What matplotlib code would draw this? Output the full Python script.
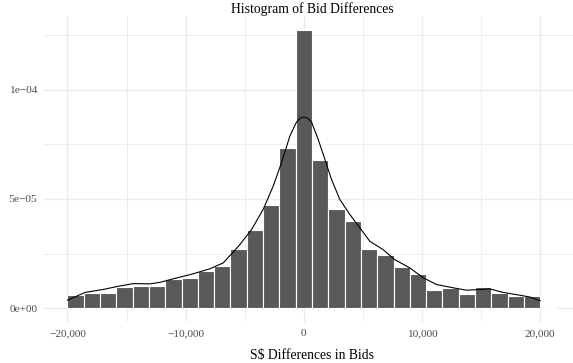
import numpy as np
import matplotlib.pyplot as plt

plt.rcParams['font.family'] = ['Liberation Serif', 'DejaVu Serif']

# bin edges of the histogram (30 bins of equal width)
bin_lo = -20000
bin_width = 40000 / 29
n_bins = 30

# density per bin (units 1e-5)
density = [0.62, 0.68, 0.68, 0.97, 1.00, 1.00, 1.34, 1.40, 1.72, 1.95,
           2.72, 3.56, 4.70, 7.35, 12.74, 6.78, 4.52, 4.01, 2.72, 2.45,
           1.87, 1.58, 0.85, 0.93, 0.65, 0.97, 0.70, 0.54, 0.57, 0.00]

# kernel density estimate, read at points along x
kde_x = [-20000, -18500, -17000, -15700, -14430, -13000, -12170, -11050,
         -9360, -7950, -6820, -5980, -5410, -4420, -3440, -2590, -1890,
         -1180, -620, -300, 0, 320, 650, 1210, 1780, 2340, 3040, 3890, 4730,
         5580, 6700, 7690, 8960, 10090, 11220, 12620, 13750, 14880, 15720,
         16850, 18260, 19100, 20000]
kde_y = [0.36, 0.72, 0.85, 1.00, 1.12, 1.11, 1.18, 1.34, 1.57, 1.80,
         2.07, 2.56, 2.91, 3.60, 4.52, 5.59, 6.66, 7.88, 8.52, 8.70, 8.75,
         8.70, 8.52, 7.73, 6.81, 5.89, 4.98, 4.29, 3.68, 3.06, 2.68, 2.22,
         1.84, 1.39, 1.08, 0.93, 0.82, 0.85, 0.88, 0.72, 0.59, 0.51, 0.34]

x_ticks = [-20000, -10000, 0, 10000, 20000]
x_labels = ['\u221220,000', '\u221210,000', '0', '10,000', '20,000']
y_ticks = [0, 5e-5, 1e-4]
y_labels = ['0e+00', '5e\u221205', '1e\u221204']

dens = np.array(density) * 1e-5
edges = bin_lo + bin_width * np.arange(n_bins + 1)

W, H = 573, 363
fig = plt.figure(figsize=(W / 100, H / 100), dpi=100)
# panel runs a little past the right edge of the figure
ax = fig.add_axes([43 / W, 1 - 322 / H, (581 - 43) / W, (322 - 16) / H])

ax.bar(edges[:-1], dens, width=bin_width, align='edge',
       color='#595959', edgecolor='white', linewidth=0.8, zorder=2)
ax.plot(kde_x, np.array(kde_y) * 1e-5, color='black', linewidth=0.8, zorder=3)

xr = edges[-1] - edges[0]
ax.set_xlim(edges[0] - 0.05 * xr, edges[-1] + 0.05 * xr)
ax.set_ylim(-0.05 * dens.max(), 1.05 * dens.max())

ax.set_xticks(x_ticks)
ax.set_xticklabels(x_labels)
ax.set_xticks([-15000, -5000, 5000, 15000], minor=True)
ax.set_yticks(y_ticks)
ax.set_yticklabels(y_labels)
ax.set_yticks([2.5e-5, 7.5e-5, 1.25e-4], minor=True)

ax.grid(which='major', color='#EBEBEB', linewidth=1.0, zorder=0)
ax.grid(which='minor', color='#EBEBEB', linewidth=0.6, zorder=0)
ax.set_axisbelow(True)
for s in ax.spines.values():
    s.set_visible(False)
ax.tick_params(which='both', length=0, labelsize=8.2, labelcolor='#4D4D4D')
ax.tick_params(axis='x', pad=5)
ax.tick_params(axis='y', pad=4)

ax.set_title('Histogram of Bid Differences', fontsize=9.8, pad=0.5)
ax.set_xlabel('S$ Differences in Bids', fontsize=9.8, labelpad=8)

fig.savefig('out.png', dpi=100)
